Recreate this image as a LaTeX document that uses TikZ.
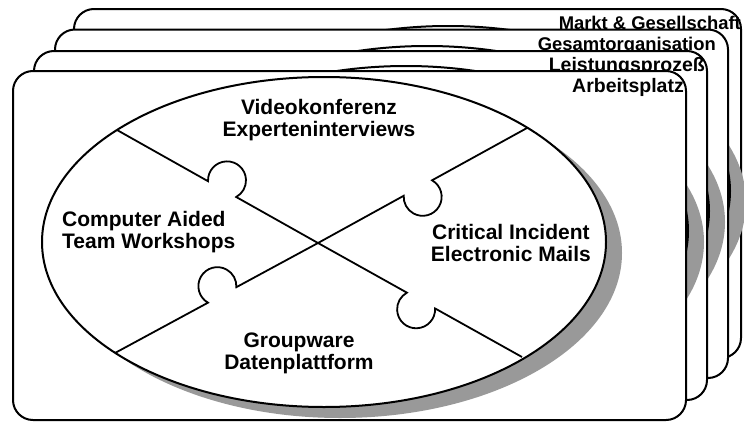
\documentclass[tikz,border=0pt]{standalone}
\usepackage{fontspec}
\setmainfont{Liberation Sans}
\usetikzlibrary{calc}
\definecolor{ShadowClr}{gray}{0.6}

\tikzset{
  card/.style={line width=2pt,fill=white,rounded corners=20pt},
  disc/.style={line width=2pt,fill=white},
  shade/.style={fill=ShadowClr},
  piece/.style={line width=1.8pt},
  level/.style={font=\bfseries\fontsize{18.4}{20}\selectfont,inner sep=0pt,anchor=base east},
  biglevel/.style={level,font=\bfseries\fontsize{19.5}{21}\selectfont},
  field/.style={font=\bfseries\fontsize{21}{22}\selectfont,inner sep=0pt,align=center}
}

\newcommand\knobarm[3]{%
  \coordinate (kf) at ($(X)!#2!(#1)$);
  \coordinate (km) at ($(kf)+(#3:10)$);
  \draw[piece] (#1) -- ($(km)+(#3-121.8:19)$)
    arc[start angle=#3-121.8,end angle=#3+121.8,radius=19] -- (X);}

\begin{document}
\begin{tikzpicture}[x=1pt,y=-1pt]
\useasboundingbox (0,0) rectangle (744,423);

\draw[card] (74,9) rectangle (741,358);
\fill[shade] (464,202) ellipse [x radius=282,y radius=165];
\draw[disc] (448,191) ellipse [x radius=282,y radius=165];
\node[level] (market) at (741,29) {Markt \& Gesellschaft};

\draw[card] (55,29.5) rectangle (728,378);
\fill[shade] (443,222) ellipse [x radius=282,y radius=165];
\draw[disc] (427,211) ellipse [x radius=282,y radius=165];
\node[level] (company) at (716,50) {Gesamtorganisation};

\draw[card] (34,51) rectangle (707,400);
\fill[shade] (422,242) ellipse [x radius=282,y radius=165];
\draw[disc] (406,231) ellipse [x radius=282,y radius=165];
\node[biglevel] (process) at (705,71) {Leistungsprozeß};

\draw[card] (13,71) rectangle (686,420);
\fill[shade] (340,253) ellipse [x radius=282,y radius=165];
\draw[disc] (324,242) ellipse [x radius=282,y radius=165];
\node[biglevel] (desk) at (684,92) {Arbeitsplatz};

\coordinate (X) at (318,243);
\coordinate (E1) at (117,130);
\coordinate (E2) at (522,357);
\coordinate (E3) at (527,128);
\coordinate (E4) at (115,353);

\knobarm{E1}{110pt}{299.27}
\knobarm{E2}{118pt}{119.27}
\knobarm{E3}{114pt}{61.36}
\knobarm{E4}{109pt}{241.36}

\node[field] (video) at (319,120) {Videokonferenz\\Experteninterviews};
\node[field,anchor=west,align=left] (workshop) at (62,232) {Computer Aided\\Team Workshops};
\node[field,anchor=east] (mails) at (591,242.5) {Critical Incident\\Electronic Mails};
\node[field] (groupware) at (299,353) {Groupware\\Datenplattform};

\end{tikzpicture}
\end{document}
